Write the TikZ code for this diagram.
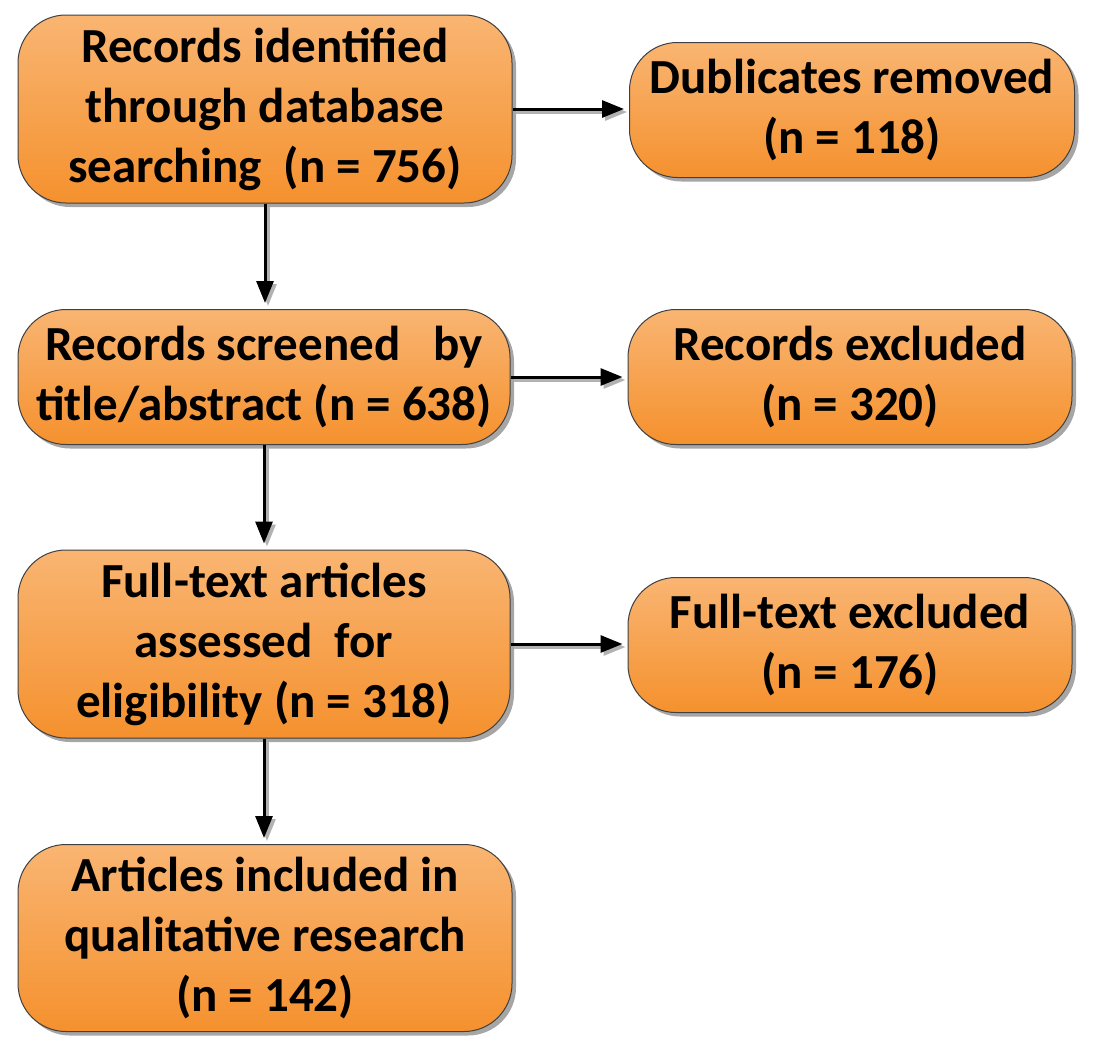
\documentclass[tikz,border=0pt]{standalone}
\usepackage{fontspec}
\setmainfont{Carlito}
\usetikzlibrary{arrows.meta,shadows}
\definecolor{boxtop}{HTML}{F9B572}
\definecolor{boxbot}{HTML}{F5912E}
\begin{document}
\begin{tikzpicture}[x=1pt,y=-1pt,
  box/.style={draw=black!75,line width=1pt,rounded corners=48pt,
    top color=boxtop,bottom color=boxbot,
    drop shadow={shadow xshift=4pt,shadow yshift=-4pt,fill=black!35,opacity=1},
    align=center,inner sep=0pt,font=\bfseries\fontsize{49}{60}\selectfont},
  arr/.style={line width=3pt,-{Triangle[length=22pt,width=17pt]}},
  arrshadow/.style={arr,black!30,transform canvas={shift={(3pt,-3pt)}}}]
          \useasboundingbox (0,0) rectangle (1093,1050);
          \node [box,minimum width=494,minimum height=188] (rec) at (265,109)
               {Records identified\\through database\\searching\ \ (n = 756)};
          \node [box,minimum width=445,minimum height=135] (dup) at (852,110)
               {Dublicates removed\\(n = 118)};
          \node [box,minimum width=492,minimum height=135] (scr) at (264,377)
               {Records screened\ \ \ by\\title/abstract (n = 638)};
          \node [box,minimum width=444,minimum height=135] (exc) at (850,377)
               {Records excluded\\(n = 320)};
          \node [box,minimum width=492,minimum height=188] (full) at (264,644)
               {Full-text articles\\assessed\ \ for\\eligibility (n = 318)};
          \node [box,minimum width=444,minimum height=135] (fex) at (850,645)
               {Full-text excluded\\(n = 176)};
          \node [box,minimum width=494,minimum height=187] (inc) at (265,938)
               {Articles included in\\qualitative research\\(n = 142)};
          \draw [arrshadow,shorten >=5pt] (rec.east) -- (rec.east -| dup.west);
          \draw [arr,shorten >=5pt] (rec.east) -- (rec.east -| dup.west);
          \draw [arrshadow,shorten >=5pt] (scr.east) -- (scr.east -| exc.west);
          \draw [arr,shorten >=5pt] (scr.east) -- (scr.east -| exc.west);
          \draw [arrshadow,shorten >=5pt] (full.east) -- (full.east -| fex.west);
          \draw [arr,shorten >=5pt] (full.east) -- (full.east -| fex.west);
          \draw [arrshadow,shorten >=6pt] (rec.south) -- (rec.south |- scr.north);
          \draw [arr,shorten >=6pt] (rec.south) -- (rec.south |- scr.north);
          \draw [arrshadow,shorten >=6pt] (scr.south) -- (scr.south |- full.north);
          \draw [arr,shorten >=6pt] (scr.south) -- (scr.south |- full.north);
          \draw [arrshadow,shorten >=6pt] (full.south) -- (full.south |- inc.north);
          \draw [arr,shorten >=6pt] (full.south) -- (full.south |- inc.north);
     \end{tikzpicture}
\end{document}
